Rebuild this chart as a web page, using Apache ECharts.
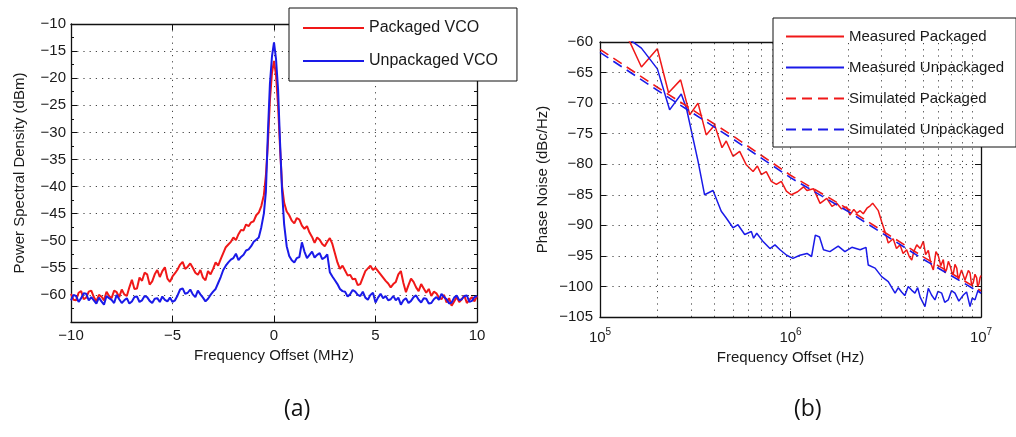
<!DOCTYPE html>
<html>
<head>
<meta charset="utf-8">
<script src="https://cdn.jsdelivr.net/npm/echarts@6.0.0/dist/echarts.min.js"></script>
<style>
html, body { margin: 0; padding: 0; background: #fff; }
#chart { width: 1016px; height: 437px; }
</style>
</head>
<body>
<div id="chart"></div>
<script>
// ---- (a) spectrum around the carrier, offset in MHz ----
var freqA = [-10, -9.875, -9.75, -9.625, -9.5, -9.375, -9.25, -9.125, -9, -8.875, -8.75, -8.625, -8.5, -8.375, -8.25, -8.125,
    -8, -7.875, -7.75, -7.625, -7.5, -7.375, -7.25, -7.125, -7, -6.875, -6.75, -6.625, -6.5, -6.375, -6.25, -6.125,
    -6, -5.875, -5.75, -5.625, -5.5, -5.375, -5.25, -5.125, -5, -4.875, -4.75, -4.625, -4.5, -4.375, -4.25, -4.125,
    -4, -3.875, -3.75, -3.625, -3.5, -3.375, -3.25, -3.125, -3, -2.875, -2.75, -2.625, -2.5, -2.375, -2.25, -2.125,
    -2, -1.875, -1.75, -1.625, -1.5, -1.375, -1.25, -1.125, -1, -0.875, -0.75, -0.625,
    -0.5, -0.4, -0.3, -0.2, -0.1, 0, 0.1, 0.2, 0.3, 0.4, 0.5,
    0.625, 0.75, 0.875, 1, 1.125, 1.25, 1.375, 1.5, 1.625, 1.75, 1.875, 2, 2.125, 2.25, 2.375, 2.5, 2.625, 2.75, 2.875,
    3, 3.125, 3.25, 3.375, 3.5, 3.625, 3.75, 3.875, 4, 4.125, 4.25, 4.375, 4.5, 4.625, 4.75, 4.875,
    5, 5.125, 5.25, 5.375, 5.5, 5.625, 5.75, 5.875, 6, 6.125, 6.25, 6.375, 6.5, 6.625, 6.75, 6.875,
    7, 7.125, 7.25, 7.375, 7.5, 7.625, 7.75, 7.875, 8, 8.125, 8.25, 8.375, 8.5, 8.625, 8.75, 8.875,
    9, 9.125, 9.25, 9.375, 9.5, 9.625, 9.75, 9.875, 10];
var psdPackaged = [-59.8, -60.9, -61, -59.6, -59.3, -60.8, -60.5, -59.4, -59.2, -60.4, -61.2, -60, -60.3, -61, -59.4, -60.2,
    -60.6, -59.2, -59.5, -60.4, -59, -59.9, -60.2, -58.6, -57.2, -58.9, -58.8, -56.8, -57.4, -55.9, -56.2, -58.1,
    -57.5, -56.2, -55.4, -56.7, -55.6, -54.9, -57, -57.6, -56.6, -56, -55.3, -54.4, -53.9, -55.2, -54.8, -54.2,
    -55, -55.9, -56.3, -55.4, -56.8, -57.3, -55.6, -56.2, -55.2, -54, -54.6, -53.4, -52.3, -51.2, -50.7, -50.2,
    -49.4, -49.9, -48.8, -48, -48.1, -47, -47.3, -46.6, -46.4, -45.3, -44.8, -43.6,
    -41.6, -38, -32, -24, -19, -16.8, -19.5, -25, -33, -40, -43,
    -44.6, -45.3, -46.3, -46.8, -45.8, -46.1, -47.2, -47.8, -47.3, -48.5, -49.3, -50.4, -49.4, -49.8, -50.6, -51, -50.2, -49.5, -50.6,
    -52.3, -54, -55.2, -54.6, -55.5, -56.4, -56.3, -57.1, -57, -58.2, -58, -56.8, -55.6, -55.1, -54.6, -55.4,
    -55, -55.6, -56.2, -56.8, -57.4, -57.9, -58.6, -58, -57.6, -56.2, -55.6, -57.8, -59.5, -58.2, -57, -57.6,
    -58.6, -59.3, -58, -58.8, -59.6, -58.9, -60.2, -59.4, -59.7, -60.5, -60.8, -60, -61.4, -60.6, -62, -61.2,
    -60.4, -61.3, -60.8, -60.1, -61.5, -60.9, -60.4, -61.2, -60.2];
var psdUnpackaged = [-61, -60, -60.2, -61.3, -60.6, -59.7, -59.8, -61, -60.4, -61, -61.6, -60.5, -61.2, -61.8, -60.2, -60.6,
    -60.9, -61.5, -60, -60.8, -61.5, -61, -60.6, -61.6, -61.2, -60.4, -60.3, -61.3, -61, -60.2, -60.4, -61.1,
    -61.5, -60.7, -60.6, -61.3, -60.3, -60.9, -61.2, -60.5, -61.3, -61, -60.1, -59, -58.8, -59.8, -59.6, -59,
    -59.9, -60.4, -59.2, -59.9, -60.5, -61.2, -60.7, -60, -59.4, -58.9, -57.8, -56.7, -55.4, -54.6, -54, -53.5,
    -53.2, -52.4, -53.6, -53, -52.6, -51.8, -51.6, -51, -50.2, -49.8, -49.4, -47.5,
    -45, -41, -30, -21, -16, -13.4, -16.5, -22, -32, -41, -47,
    -51, -52.8, -53.6, -54, -53.2, -53, -50.3, -52, -53.2, -52.6, -52, -53.1, -52.6, -52.3, -53.4, -53.1, -52.5, -55.8, -56.6,
    -57.3, -58, -58.9, -59.3, -59.4, -60.3, -59.9, -59.1, -59.4, -60, -60.2, -59.4, -60.5, -60.9, -60, -59.6,
    -61.4, -60.5, -59.8, -60.6, -60.2, -61, -60.8, -60.2, -61, -60.5, -61.8, -61, -60.6, -61.5, -61.1, -60.4,
    -60.1, -60.9, -61.4, -60.6, -60.7, -61.6, -61.5, -60.8, -60.4, -60.9, -59.8, -60.4, -60.8, -61.6, -61.4, -60.5,
    -60.1, -61, -60.8, -60.2, -60.1, -61.3, -61.1, -60.4, -60.2];

// ---- (b) phase noise, [offset Hz, dBc/Hz] ----
var pnPackaged = [[1.20e5, -57.5], [1.43e5, -59.9], [1.65e5, -64.1], [2.00e5, -61.1], [2.29e5, -68.3], [2.65e5, -66.2],
    [2.96e5, -71.9], [3.27e5, -70.0], [3.61e5, -75.2], [4.00e5, -73.6], [4.37e5, -77.3], [4.60e5, -76.2], [4.99e5, -78.7],
    [5.41e5, -77.9], [5.86e5, -80.1], [6.36e5, -81.2], [6.70e5, -80.3], [7.03e5, -81.7], [7.46e5, -81.2], [7.93e5, -82.8],
    [8.43e5, -83.3], [8.95e5, -82.8], [9.51e5, -84.4], [1.01e6, -85.0], [1.09e6, -84.5], [1.17e6, -83.7], [1.22e6, -84.3],
    [1.32e6, -84.0], [1.43e6, -86.4], [1.55e6, -85.6], [1.65e6, -86.9], [1.75e6, -86.4], [1.85e6, -87.3], [1.97e6, -87.0],
    [2.05e6, -88.3], [2.15e6, -87.4], [2.23e6, -88.0], [2.32e6, -87.6], [2.41e6, -88.1], [2.52e6, -87.2], [2.62e6, -86.8],
    [2.70e6, -86.4], [2.78e6, -86.9], [2.89e6, -87.6], [3.01e6, -89.4], [3.13e6, -91.0], [3.26e6, -92.9], [3.46e6, -92.2],
    [3.60e6, -93.8], [3.76e6, -93.2], [3.90e6, -94.6], [4.07e6, -94.0], [4.20e6, -95.1], [4.33e6, -95.7], [4.45e6, -94.2],
    [4.60e6, -93.2], [4.80e6, -93.8], [4.98e6, -92.6], [5.12e6, -94.8], [5.29e6, -94.1], [5.45e6, -96.2], [5.62e6, -97.3],
    [5.80e6, -94.3], [5.97e6, -95.0], [6.15e6, -96.6], [6.34e6, -95.6], [6.47e6, -97.8], [6.60e6, -97.2], [6.74e6, -95.9],
    [6.88e6, -96.6], [7.02e6, -97.6], [7.15e6, -98.0], [7.30e6, -96.4], [7.46e6, -97.0], [7.60e6, -98.9], [7.75e6, -98.6],
    [7.90e6, -97.3], [8.08e6, -98.2], [8.24e6, -99.0], [8.40e6, -99.3], [8.58e6, -97.4], [8.76e6, -97.8], [8.93e6, -99.8],
    [9.10e6, -99.4], [9.30e6, -98.0], [9.49e6, -98.6], [9.60e6, -100.0], [9.75e6, -99.6], [9.88e6, -98.6], [1.0e7, -98.2]];
var pnUnpackaged = [[1.30e5, -58.5], [1.46e5, -59.8], [1.65e5, -61.0], [2.00e5, -64.4], [2.32e5, -71.1], [2.67e5, -68.5],
    [2.84e5, -70.8], [3.27e5, -79.5], [3.54e5, -85.0], [3.92e5, -84.3], [4.33e5, -87.7], [4.60e5, -88.8], [4.99e5, -90.4],
    [5.30e5, -89.9], [5.75e5, -91.5], [6.23e5, -91.0], [6.40e5, -92.1], [6.65e5, -91.3], [7.20e5, -92.7], [7.80e5, -93.8],
    [8.29e5, -93.2], [8.81e5, -94.0], [9.55e5, -94.9], [1.03e6, -95.4], [1.12e6, -94.9], [1.22e6, -94.6], [1.29e6, -95.1],
    [1.35e6, -91.6], [1.42e6, -91.9], [1.49e6, -94.0], [1.61e6, -94.3], [1.78e6, -93.4], [1.93e6, -94.3], [2.10e6, -93.6],
    [2.32e6, -94.0], [2.49e6, -93.6], [2.56e6, -96.5], [2.78e6, -97.0], [3.01e6, -98.4], [3.26e6, -99.2], [3.54e6, -101.1],
    [3.68e6, -100.2], [3.83e6, -100.9], [3.98e6, -101.5], [4.15e6, -100.0], [4.32e6, -100.6], [4.50e6, -101.1],
    [4.65e6, -100.2], [4.80e6, -101.8], [5.08e6, -103.3], [5.29e6, -100.3], [5.50e6, -101.4], [5.73e6, -102.2],
    [5.95e6, -100.8], [6.22e6, -101.1], [6.45e6, -102.6], [6.73e6, -102.2], [7.00e6, -100.7], [7.30e6, -101.1],
    [7.65e6, -102.4], [8.08e6, -101.4], [8.40e6, -100.9], [8.76e6, -103.3], [9.00e6, -101.9], [9.30e6, -102.2],
    [9.65e6, -100.6], [1.0e7, -101.1]];
var freqSim = [1e5, 2e5, 5e5, 1e6, 2e6, 5e6, 1e7];
var simPackaged = [-61.2, -67.4, -75.4, -81.8, -87.3, -95.2, -100.7];
var simUnpackaged = [-61.7, -67.9, -75.9, -82.2, -87.7, -95.6, -101.1];
var logMinor = [2e5, 3e5, 4e5, 5e5, 6e5, 7e5, 8e5, 9e5, 2e6, 3e6, 4e6, 5e6, 6e6, 7e6, 8e6, 9e6];

var RED = '#f01818', BLUE = '#1a1ae8';
var FONT = 'Liberation Sans';
var TXT = '#1a1a1a';

function minus(v) { return String(v).replace('-', '\u2212'); }
function pairs(xs, ys) { return xs.map(function (x, i) { return [x, ys[i]]; }); }

var dotted = { show: true, lineStyle: { color: '#444', width: 1, type: [1.2, 5] } };
var axLine = { show: true, onZero: false, lineStyle: { color: '#111', width: 1.3 } };
var tick = { show: true, inside: true, length: 6, lineStyle: { color: '#111' } };
var lab = { fontFamily: FONT, fontSize: 15, color: TXT };

function mirrorX(grid, type) {
    var a = { gridIndex: grid, position: 'top', type: type, axisLine: axLine, axisTick: tick,
        axisLabel: { show: false }, splitLine: { show: false } };
    if (type === 'log') { a.logBase = 10; a.min = 1e5; a.max = 1e7; }
    else { a.min = -10; a.max = 10; a.interval = 5; }
    return a;
}

var chart = echarts.init(document.getElementById('chart'));
chart.setOption({
    animation: false,
    backgroundColor: '#fff',
    title: [
        { text: '(a)', left: 284, top: 398, padding: 0, textStyle: { fontFamily: 'Open Sans', fontSize: 23, fontWeight: 'normal', color: '#111' } },
        { text: '(b)', left: 794, top: 398, padding: 0, textStyle: { fontFamily: 'Open Sans', fontSize: 23, fontWeight: 'normal', color: '#111' } }
    ],
    grid: [
        { left: 71, top: 24, width: 406, height: 298, containLabel: false, outerBoundsMode: 'none' },
        { left: 600, top: 42, width: 381, height: 275, containLabel: false, outerBoundsMode: 'none' }
    ],
    legend: [
        {
            data: ['Packaged VCO', 'Unpackaged VCO'],
            orient: 'vertical', left: 289, top: 8, selectedMode: false,
            itemWidth: 61, itemHeight: 14, itemGap: 17, padding: [12, 19, 12, 13],
            itemStyle: { opacity: 0 },
            backgroundColor: '#fff', borderColor: '#111', borderWidth: 1, borderRadius: 0,
            textStyle: { fontFamily: FONT, fontSize: 16, color: TXT }
        },
        {
            data: ['Measured Packaged', 'Measured Unpackaged', 'Simulated Packaged', 'Simulated Unpackaged'],
            orient: 'vertical', left: 773, top: 18, selectedMode: false,
            itemWidth: 58, itemHeight: 14, itemGap: 16, padding: [11, 12, 10, 12],
            itemStyle: { opacity: 0 },
            backgroundColor: '#fff', borderColor: '#111', borderWidth: 1, borderRadius: 0,
            textStyle: { fontFamily: FONT, fontSize: 15, color: TXT }
        }
    ],
    xAxis: [
        {
            gridIndex: 0, type: 'value', min: -10, max: 10, interval: 5,
            axisLine: axLine, axisTick: tick, splitLine: dotted,
            axisLabel: Object.assign({ margin: 6, formatter: minus }, lab),
            name: 'Frequency Offset (MHz)', nameLocation: 'middle', nameGap: 25,
            nameTextStyle: { fontFamily: FONT, fontSize: 15, color: TXT }
        },
        {
            gridIndex: 1, type: 'log', logBase: 10, min: 1e5, max: 1e7,
            axisLine: axLine, axisTick: tick, splitLine: dotted,
            axisLabel: {
                margin: 10,
                formatter: function (v) { return '{b|10}{e|' + Math.round(Math.log(v) / Math.LN10) + '}'; },
                rich: {
                    b: { fontFamily: FONT, fontSize: 15, color: TXT },
                    e: { fontFamily: FONT, fontSize: 10, color: TXT, padding: [0, 0, 12, 0] }
                }
            },
            name: 'Frequency Offset (Hz)', nameLocation: 'middle', nameGap: 30,
            nameTextStyle: { fontFamily: FONT, fontSize: 15, color: TXT }
        },
        mirrorX(0, 'value'),
        mirrorX(1, 'log')
    ],
    yAxis: [
        {
            gridIndex: 0, type: 'value', min: -65, max: -10, interval: 5,
            axisLine: axLine, axisTick: tick, splitLine: dotted,
            minorTick: { show: true, splitNumber: 2, length: 3, lineStyle: { color: '#111' } },
            axisLabel: Object.assign({ margin: 5, formatter: function (v) { return v === -65 ? '' : minus(v); } }, lab),
            name: 'Power Spectral Density (dBm)', nameLocation: 'middle', nameGap: 44, nameRotate: 90,
            nameTextStyle: { fontFamily: FONT, fontSize: 15, color: TXT }
        },
        {
            gridIndex: 1, type: 'value', min: -105, max: -60, interval: 5,
            axisLine: axLine, axisTick: tick, splitLine: dotted,
            axisLabel: Object.assign({ margin: 7, formatter: minus }, lab),
            name: 'Phase Noise (dBc/Hz)', nameLocation: 'middle', nameGap: 50, nameRotate: 90,
            nameTextStyle: { fontFamily: FONT, fontSize: 15, color: TXT }
        },
        {
            gridIndex: 0, type: 'value', position: 'right', min: -65, max: -10, interval: 5,
            axisLine: axLine, axisTick: tick, axisLabel: { show: false }, splitLine: { show: false },
            minorTick: { show: true, splitNumber: 2, length: 3, lineStyle: { color: '#111' } }
        },
        {
            gridIndex: 1, type: 'value', position: 'right', min: -105, max: -60, interval: 5,
            axisLine: axLine, axisTick: tick, axisLabel: { show: false }, splitLine: { show: false }
        }
    ],
    series: [
        {
            name: 'minor-grid', type: 'line', xAxisIndex: 1, yAxisIndex: 1, data: [], silent: true,
            markLine: {
                silent: true, symbol: ['none', 'none'], label: { show: false },
                lineStyle: { color: '#444', width: 1, type: [1.2, 5] },
                emphasis: { disabled: true },
                data: logMinor.map(function (v) { return { xAxis: v }; })
            }
        },
        {
            name: 'Packaged VCO', type: 'line', xAxisIndex: 0, yAxisIndex: 0, symbol: 'none',
            data: pairs(freqA, psdPackaged), lineStyle: { color: RED, width: 2 }, itemStyle: { color: RED }
        },
        {
            name: 'Unpackaged VCO', type: 'line', xAxisIndex: 0, yAxisIndex: 0, symbol: 'none',
            data: pairs(freqA, psdUnpackaged), lineStyle: { color: BLUE, width: 2 }, itemStyle: { color: BLUE }
        },
        {
            name: 'Measured Packaged', type: 'line', xAxisIndex: 1, yAxisIndex: 1, symbol: 'none',
            data: pnPackaged, lineStyle: { color: RED, width: 1.5 }, itemStyle: { color: RED }
        },
        {
            name: 'Measured Unpackaged', type: 'line', xAxisIndex: 1, yAxisIndex: 1, symbol: 'none',
            data: pnUnpackaged, lineStyle: { color: BLUE, width: 1.5 }, itemStyle: { color: BLUE }
        },
        {
            name: 'Simulated Packaged', type: 'line', xAxisIndex: 1, yAxisIndex: 1, symbol: 'none',
            data: pairs(freqSim, simPackaged), lineStyle: { color: RED, width: 1.6, type: [10, 6] }, itemStyle: { color: RED }
        },
        {
            name: 'Simulated Unpackaged', type: 'line', xAxisIndex: 1, yAxisIndex: 1, symbol: 'none',
            data: pairs(freqSim, simUnpackaged), lineStyle: { color: BLUE, width: 1.6, type: [10, 6] }, itemStyle: { color: BLUE }
        }
    ]
});
</script>
</body>
</html>
